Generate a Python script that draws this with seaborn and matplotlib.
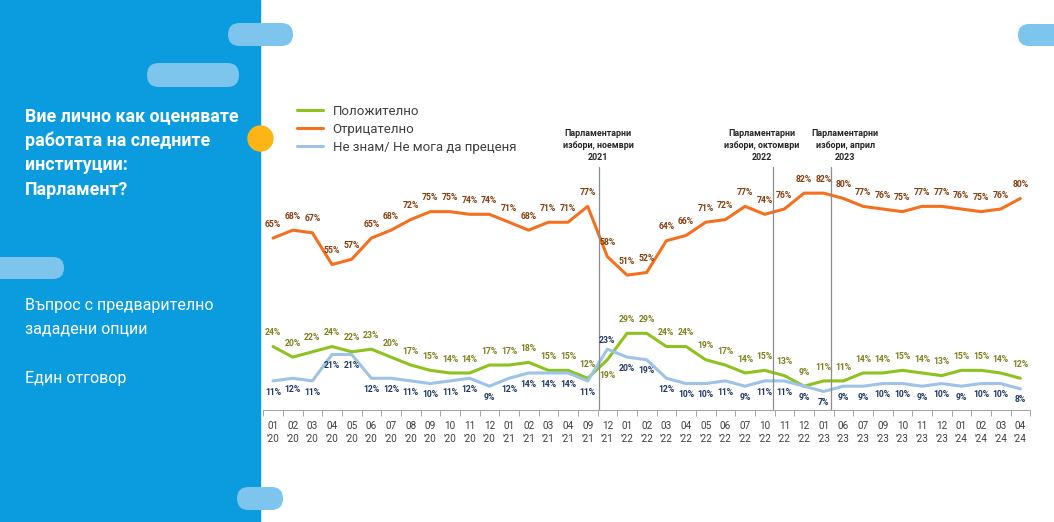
import pandas as pd
import seaborn as sns
import matplotlib.pyplot as plt
from matplotlib.patches import FancyBboxPatch, Rectangle, Circle

# ---- data ----
months = ["01\n'20", "02\n'20", "03\n'20", "04\n'20", "05\n'20", "06\n'20", "07\n'20", "08\n'20",
          "09\n'20", "10\n'20", "11\n'20", "12\n'20", "01\n'21", "02\n'21", "03\n'21", "04\n'21",
          "09\n'21", "12\n'21", "01\n'22", "02\n'22", "03\n'22", "04\n'22", "05\n'22", "06\n'22",
          "07\n'22", "10\n'22", "11\n'22", "12\n'22", "01\n'23", "06\n'23", "07\n'23", "09\n'23",
          "10\n'23", "11\n'23", "12\n'23", "01\n'24", "02\n'24", "03\n'24", "04\n'24"]
positive = [24, 20, 22, 24, 22, 23, 20, 17, 15, 14, 14, 17, 17, 18, 15, 15, 12, 19, 29, 29,
            24, 24, 19, 17, 14, 15, 13, 9, 11, 11, 14, 14, 15, 14, 13, 15, 15, 14, 12]
negative = [65, 68, 67, 55, 57, 65, 68, 72, 75, 75, 74, 74, 71, 68, 71, 71, 77, 58, 51, 52,
            64, 66, 71, 72, 77, 74, 76, 82, 82, 80, 77, 76, 75, 77, 77, 76, 75, 76, 80]
dont_know = [11, 12, 11, 21, 21, 12, 12, 11, 10, 11, 12, 9, 12, 14, 14, 14, 11, 23, 20, 19,
             12, 10, 10, 11, 9, 11, 11, 9, 7, 9, 9, 10, 10, 9, 10, 9, 10, 10, 8]
series_names = ["Положително", "Отрицателно", "Не знам/ Не мога да преценя"]

election_pos = [16.55, 25.42, 28.37]
election_text_pos = [16.53, 24.85, 29.1]
election_labels = ["Парламентарни\nизбори, ноември\n2021",
                   "Парламентарни\nизбори, октомври\n2022",
                   "Парламентарни\nизбори, април\n2023"]

line_colors = ["#8DC21F", "#F4701F", "#9DC3E6"]
label_colors = ["#7F7F1A", "#843C0C", "#1F3864"]

sns.set_theme(style="white")
plt.rcParams['font.family'] = ['Roboto', 'DejaVu Sans']

W, H = 1054, 522
fig = plt.figure(figsize=(W / 100, H / 100), dpi=100)

# background layer in pixel coordinates
bg = fig.add_axes([0, 0, 1, 1], zorder=0)
bg.set_xlim(0, W)
bg.set_ylim(H, 0)
bg.axis('off')
bg.add_patch(Rectangle((0, 0), 260, H, color="#0A9CDE", zorder=1))
pill_color = "#7DC5EC"
for x0, y0, w, h in [(228, 23, 65, 23), (147, 63, 92, 24), (-20, 257, 84, 22),
                     (1018, 24, 60, 22), (237, 487, 46, 23)]:
    bg.add_patch(FancyBboxPatch((x0, y0), w, h, boxstyle=f"round,pad=0,rounding_size={h/2}",
                                fc=pill_color, ec="none", zorder=2))
bg.add_patch(Circle((260.5, 138.5), 12.5, color="#FDB515", zorder=3))

title_lines = ["Вие лично как оценявате", "работата на следните", "институции:", "Парламент?"]
for i, t in enumerate(title_lines):
    bg.text(25, 121 + i * 24.6, t, color="white", fontsize=12.8, fontweight="bold",
            va="baseline", ha="left", zorder=4)
for t, y in [("Въпрос с предварително", 310), ("зададени опции", 334), ("Един отговор", 383)]:
    bg.text(25, y, t, color="white", fontsize=11.5, fontweight="normal",
            va="baseline", ha="left", zorder=4)

# ---- main chart ----
ax = fig.add_axes([263.2 / W, 112 / H, 767 / W, 243.3 / H], zorder=2)
ax.patch.set_alpha(0)

x = list(range(len(months)))
df = pd.DataFrame({"x": x * 3,
                   "value": positive + negative + dont_know,
                   "series": [series_names[0]] * len(x) + [series_names[1]] * len(x)
                             + [series_names[2]] * len(x)})
sns.lineplot(data=df, x="x", y="value", hue="series", hue_order=series_names,
             palette=line_colors, linewidth=2.2, ax=ax)

ax.set_xlim(-0.5, len(months) - 0.5)
ax.set_ylim(0, 92)

# data labels
offsets = [10, 10, -8]
for k, vals in enumerate([positive, negative, dont_know]):
    for i, v in enumerate(vals):
        dy = offsets[k]
        if i == 17 and k == 0:
            dy = -11
        if i == 17 and k == 2:
            dy = 6
        ax.annotate(f"{v}%", (i, v), xytext=(0, dy), textcoords="offset points",
                    ha="center", va="center", fontsize=6.2, fontweight="bold",
                    color=label_colors[k], clip_on=False)

# election markers
for xp, xt, lab in zip(election_pos, election_text_pos, election_labels):
    ax.axvline(xp, color="#8C8C8C", linewidth=0.9)
    ax.text(xt, 1.02, lab, transform=ax.get_xaxis_transform(), ha="center", va="bottom",
            fontsize=6.4, fontweight="bold", color="#262626", linespacing=1.4)

# axes styling
for s in ["top", "right", "left"]:
    ax.spines[s].set_visible(False)
ax.spines["bottom"].set_color("#A6A6A6")
ax.spines["bottom"].set_linestyle((0, (2, 1)))
ax.spines["bottom"].set_linewidth(0.8)
ax.set_yticks([])
ax.set_xticks(x)
ax.set_xticklabels(months, fontsize=7.2, color="#404040", linespacing=1.3)
ax.set_xticks([i - 0.5 for i in range(len(months) + 1)], minor=True)
ax.tick_params(axis="x", which="major", length=0, pad=8)
ax.tick_params(axis="x", which="minor", length=4, width=0.7, color="#A6A6A6", bottom=True)
ax.set_xlabel("")
ax.set_ylabel("")

handles, labels = ax.get_legend_handles_labels()
ax.legend(handles, labels, loc="upper left", bbox_to_anchor=(297 / W, 1 - 105 / H),
          bbox_transform=fig.transFigure, frameon=False, fontsize=9.5, handlelength=2.0,
          handletextpad=0.7, labelspacing=0.36, labelcolor="#404040", borderpad=0,
          borderaxespad=0)

fig.savefig("out.png", dpi=100)
